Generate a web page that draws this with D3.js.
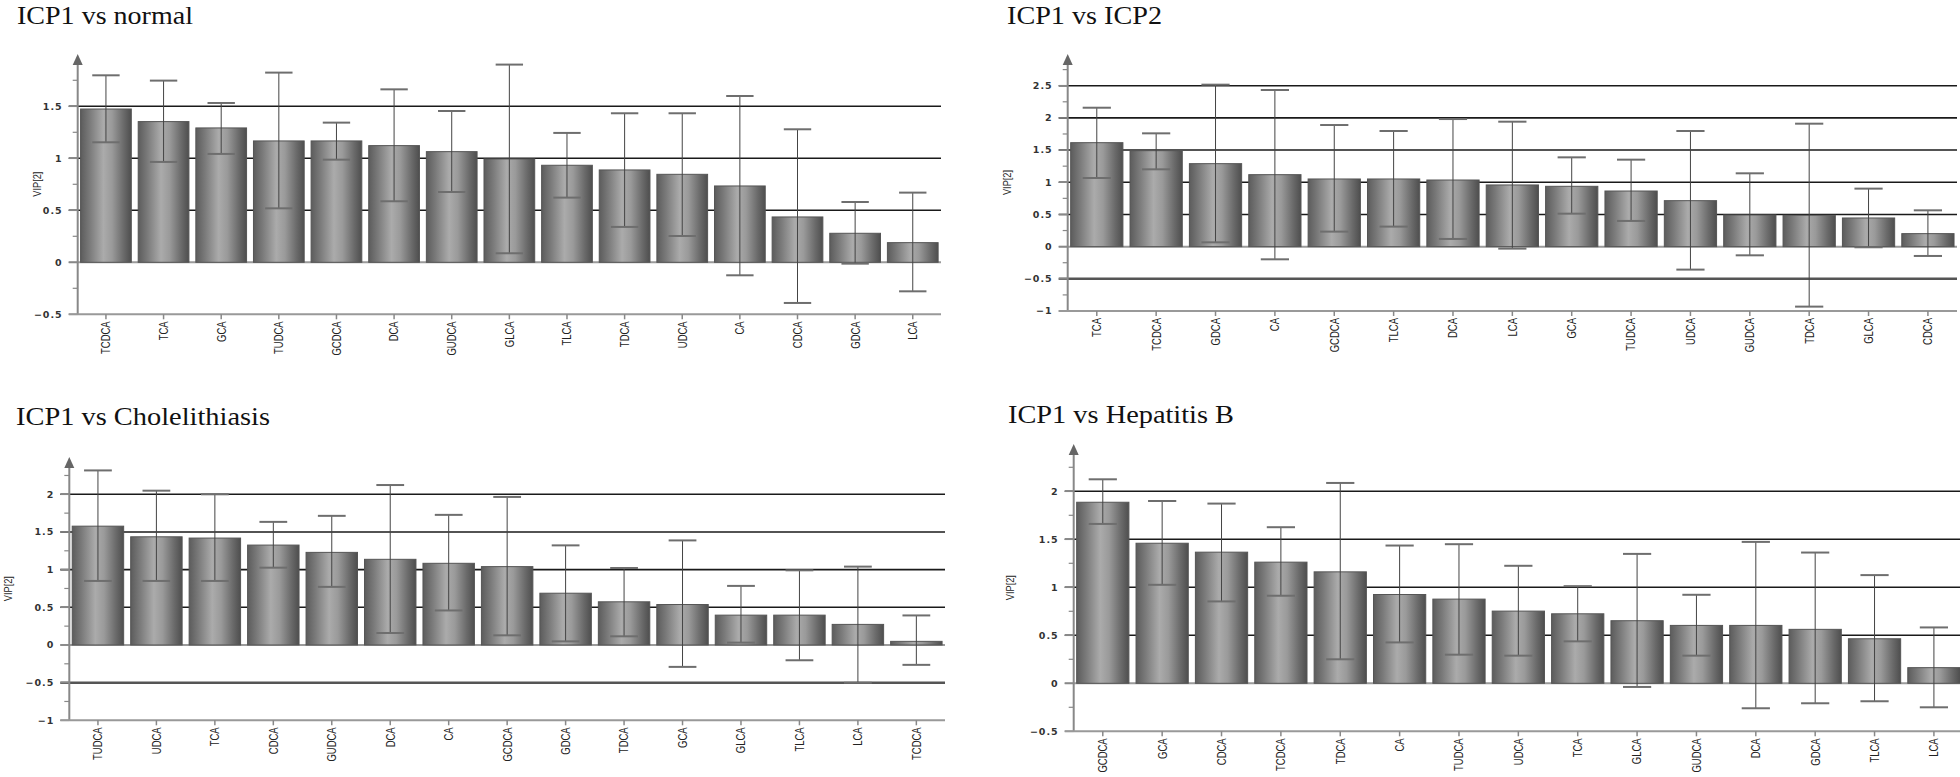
<!DOCTYPE html>
<html>
<head>
<meta charset="utf-8">
<script src="https://cdn.jsdelivr.net/npm/d3@7"></script>
<style>
  html, body { margin: 0; padding: 0; background: #fff; }
  svg { display: block; }
</style>
</head>
<body>
<svg id="chart" width="1960" height="777"></svg>
<script>
// ---------------- DATA ----------------
const titles = ["ICP1 vs normal", "ICP1 vs ICP2", "ICP1 vs Cholelithiasis", "ICP1 vs Hepatitis B"];
const yAxisLabel = "VIP[2]";

// ICP1 vs normal
const catsNormal  = ["TCDCA","TCA","GCA","TUDCA","GCDCA","DCA","GUDCA","GLCA","TLCA","TDCA","UDCA","CA","CDCA","GDCA","LCA"];
const vipNormal   = [1.474,1.353,1.292,1.167,1.167,1.122,1.064,0.994,0.933,0.888,0.846,0.734,0.436,0.279,0.189];
const hiNormal    = [1.798,1.747,1.532,1.824,1.343,1.663,1.455,1.901,1.244,1.433,1.433,1.599,1.279,0.580,0.670];
const loNormal    = [1.154,0.965,1.042,0.519,0.987,0.587,0.676,0.087,0.622,0.340,0.253,-0.125,-0.391,-0.013,-0.279];

// ICP1 vs ICP2
const catsICP2 = ["TCA","TCDCA","GDCA","CA","GCDCA","TLCA","DCA","LCA","GCA","TUDCA","UDCA","GUDCA","TDCA","GLCA","CDCA"];
const vipICP2  = [1.615,1.491,1.289,1.118,1.051,1.051,1.035,0.958,0.937,0.864,0.714,0.492,0.487,0.445,0.202];
const hiICP2   = [2.158,1.760,2.516,2.433,1.889,1.796,1.982,1.941,1.387,1.351,1.796,1.139,1.910,0.901,0.564];
const loICP2   = [1.066,1.201,0.067,-0.197,0.233,0.311,0.119,-0.031,0.512,0.399,-0.357,-0.135,-0.932,-0.010,-0.145];

// ICP1 vs Cholelithiasis
const catsChol = ["TUDCA","UDCA","TCA","CDCA","GUDCA","DCA","CA","GCDCA","GDCA","TDCA","GCA","GLCA","TLCA","LCA","TCDCA"];
const vipChol  = [1.577,1.436,1.419,1.326,1.229,1.137,1.084,1.040,0.687,0.573,0.537,0.396,0.396,0.273,0.048];
const hiChol   = [2.317,2.048,2.000,1.634,1.714,2.123,1.727,1.965,1.322,1.022,1.388,0.784,0.991,1.040,0.392];
const loChol   = [0.850,0.850,0.850,1.026,0.771,0.159,0.458,0.128,0.048,0.115,-0.291,0.031,-0.203,-0.502,-0.264];

// ICP1 vs Hepatitis B
const catsHepB = ["GCDCA","GCA","CDCA","TCDCA","TDCA","CA","TUDCA","UDCA","TCA","GLCA","GUDCA","DCA","GDCA","TLCA","LCA"];
const vipHepB  = [1.886,1.459,1.366,1.262,1.161,0.925,0.877,0.752,0.724,0.652,0.603,0.603,0.562,0.464,0.163];
const hiHepB   = [2.125,1.899,1.872,1.626,2.087,1.435,1.449,1.224,1.012,1.348,0.922,1.473,1.362,1.127,0.582];
const loHepB   = [1.660,1.026,0.853,0.912,0.250,0.426,0.298,0.288,0.437,-0.038,0.288,-0.260,-0.208,-0.187,-0.250];

// y tick labels / reference lines per panel
const yTicksNormal = [-0.5, 0, 0.5, 1, 1.5];
const yTicksICP2   = [-1, -0.5, 0, 0.5, 1, 1.5, 2, 2.5];
const yTicksChol   = [-1, -0.5, 0, 0.5, 1, 1.5, 2];
const yTicksHepB   = [-0.5, 0, 0.5, 1, 1.5, 2];

const gridNormal = [0.5, 1, 1.5];
const gridICP2   = [-0.5, 0.5, 1, 1.5, 2, 2.5];
const gridChol   = [-0.5, 0.5, 1, 1.5, 2];
const gridHepB   = [0.5, 1, 1.5, 2];

// ---------------- LAYOUT ----------------
const panels = [
  { title: titles[0], cats: catsNormal, vip: vipNormal, hi: hiNormal, lo: loNormal, ticks: yTicksNormal, grid: gridNormal,
    titleX: 17, titleY: 23.5, titleW: 176, axisX: 77.7, right: 941, yMin: -0.5, yMinPx: 314.3, yMax: 1.5, yMaxPx: 106.3, arrowY: 54, minorTop: 1.75, labelX: 37 },
  { title: titles[1], cats: catsICP2, vip: vipICP2, hi: hiICP2, lo: loICP2, ticks: yTicksICP2, grid: gridICP2,
    titleX: 1007, titleY: 23.5, titleW: 155, axisX: 1067.7, right: 1957, yMin: -1, yMinPx: 311, yMax: 2.5, yMaxPx: 85.7, arrowY: 54, minorTop: 2.75, labelX: 1007 },
  { title: titles[2], cats: catsChol, vip: vipChol, hi: hiChol, lo: loChol, ticks: yTicksChol, grid: gridChol,
    titleX: 16, titleY: 425, titleW: 254, axisX: 69.3, right: 945, yMin: -1, yMinPx: 720.3, yMax: 2, yMaxPx: 494.3, arrowY: 457, minorTop: 2.25, labelX: 8 },
  { title: titles[3], cats: catsHepB, vip: vipHepB, hi: hiHepB, lo: loHepB, ticks: yTicksHepB, grid: gridHepB,
    titleX: 1008, titleY: 423, titleW: 226, axisX: 1073.7, right: 1963, yMin: -0.5, yMinPx: 731.3, yMax: 2, yMaxPx: 491.3, arrowY: 444, minorTop: 2.25, labelX: 1010 }
];

const svg = d3.select("#chart");
const defs = svg.append("defs");
const grad = defs.append("linearGradient").attr("id", "barGrad").attr("x1", "0").attr("x2", "1").attr("y1", "0").attr("y2", "0");
[[0, "#5c5c5c"], [0.18, "#7a7a7a"], [0.45, "#ababab"], [0.62, "#9a9a9a"], [0.85, "#6a6a6a"], [1, "#4e4e4e"]]
  .forEach(([o, c]) => grad.append("stop").attr("offset", o).attr("stop-color", c));

panels.forEach(p => {
  const g = svg.append("g");
  const y = d3.scaleLinear().domain([p.yMin, p.yMax]).range([p.yMinPx, p.yMaxPx]);
  const x = d3.scaleBand().domain(p.cats).range([p.axisX, p.right]).paddingInner(0.12).paddingOuter(0.05);

  // title
  g.append("text").attr("x", p.titleX).attr("y", p.titleY)
    .attr("font-family", "'Liberation Serif', 'Times New Roman', serif")
    .attr("font-size", 26).attr("fill", "#111")
    .attr("textLength", p.titleW).attr("lengthAdjust", "spacingAndGlyphs")
    .text(p.title);

  // reference lines (behind bars)
  g.selectAll("line.grid").data(p.grid).join("line")
    .attr("x1", p.axisX - 9).attr("x2", Math.min(p.right, 1960))
    .attr("y1", d => y(d)).attr("y2", d => y(d))
    .attr("stroke", d => d < 0 ? "#555" : "#1a1a1a")
    .attr("stroke-width", d => d < 0 ? 2.5 : 1.6);

  // zero line
  g.append("line").attr("x1", p.axisX - 9).attr("x2", Math.min(p.right, 1960))
    .attr("y1", y(0)).attr("y2", y(0)).attr("stroke", "#9a9a9a").attr("stroke-width", 2);

  // bars
  g.selectAll("rect.bar").data(p.cats).join("rect")
    .attr("x", d => x(d)).attr("width", x.bandwidth())
    .attr("y", (d, i) => y(Math.max(0, p.vip[i])))
    .attr("height", (d, i) => Math.abs(y(p.vip[i]) - y(0)))
    .attr("fill", "url(#barGrad)").attr("stroke", "#555").attr("stroke-width", 1);

  // error bars
  const capW = x.bandwidth() * 0.54;
  p.cats.forEach((c, i) => {
    const cx = x(c) + x.bandwidth() / 2;
    g.append("line").attr("x1", cx).attr("x2", cx).attr("y1", y(p.hi[i])).attr("y2", y(p.lo[i]))
      .attr("stroke", "#444").attr("stroke-width", 1);
    [p.hi[i], p.lo[i]].forEach(v => {
      g.append("line").attr("x1", cx - capW / 2).attr("x2", cx + capW / 2).attr("y1", y(v)).attr("y2", y(v))
        .attr("stroke", "#6e6e6e").attr("stroke-width", 2);
    });
  });

  // y axis line
  g.append("line").attr("x1", p.axisX).attr("x2", p.axisX).attr("y1", p.arrowY + 8).attr("y2", p.yMinPx)
    .attr("stroke", "#888").attr("stroke-width", 2);
  // arrow
  g.append("path")
    .attr("d", `M${p.axisX},${p.arrowY} L${p.axisX - 5},${p.arrowY + 11} L${p.axisX + 5},${p.arrowY + 11} Z`)
    .attr("fill", "#666");

  // y major ticks + labels
  g.selectAll("line.ymaj").data(p.ticks).join("line")
    .attr("x1", p.axisX - 9).attr("x2", p.axisX).attr("y1", d => y(d)).attr("y2", d => y(d))
    .attr("stroke", "#888").attr("stroke-width", 1.5);
  g.selectAll("text.ylab").data(p.ticks).join("text")
    .attr("x", p.axisX - 15).attr("y", d => y(d)).attr("dy", "0.35em")
    .attr("text-anchor", "end")
    .attr("font-family", "'DejaVu Sans', Verdana, sans-serif").attr("font-weight", "bold")
    .attr("font-size", 9.5).attr("letter-spacing", 1).attr("fill", "#333")
    .text(d => d3.format("")(d));
  // minor ticks
  const minors = d3.range(p.yMin + 0.25, p.minorTop + 0.001, 0.5);
  g.selectAll("line.ymin").data(minors).join("line")
    .attr("x1", p.axisX - 5).attr("x2", p.axisX).attr("y1", d => y(d)).attr("y2", d => y(d))
    .attr("stroke", "#888").attr("stroke-width", 1.2);

  // x axis line
  g.append("line").attr("x1", p.axisX - 9).attr("x2", Math.min(p.right, 1960))
    .attr("y1", p.yMinPx).attr("y2", p.yMinPx).attr("stroke", "#999").attr("stroke-width", 2);
  // x ticks
  g.selectAll("line.xt").data(p.cats).join("line")
    .attr("x1", d => x(d) + x.bandwidth() / 2).attr("x2", d => x(d) + x.bandwidth() / 2)
    .attr("y1", p.yMinPx).attr("y2", p.yMinPx + 5).attr("stroke", "#888").attr("stroke-width", 1.5);
  // x labels
  g.selectAll("text.xl").data(p.cats).join("text")
    .attr("transform", d => `translate(${x(d) + x.bandwidth() / 2},${p.yMinPx + 7}) rotate(-90) scale(0.76,1)`)
    .attr("text-anchor", "end").attr("dy", "0.35em")
    .attr("font-family", "'Liberation Sans', Arial, sans-serif")
    .attr("font-size", 12.5).attr("fill", "#222").text(d => d);

  // y axis title
  const midY = (p.arrowY + p.yMinPx) / 2;
  g.append("text")
    .attr("transform", `translate(${p.labelX},${midY}) rotate(-90) scale(0.8,1)`)
    .attr("text-anchor", "middle").attr("dy", "0.35em")
    .attr("font-family", "'Liberation Sans', Arial, sans-serif")
    .attr("font-size", 11.5).attr("fill", "#222").text(yAxisLabel);
});
</script>
</body>
</html>
